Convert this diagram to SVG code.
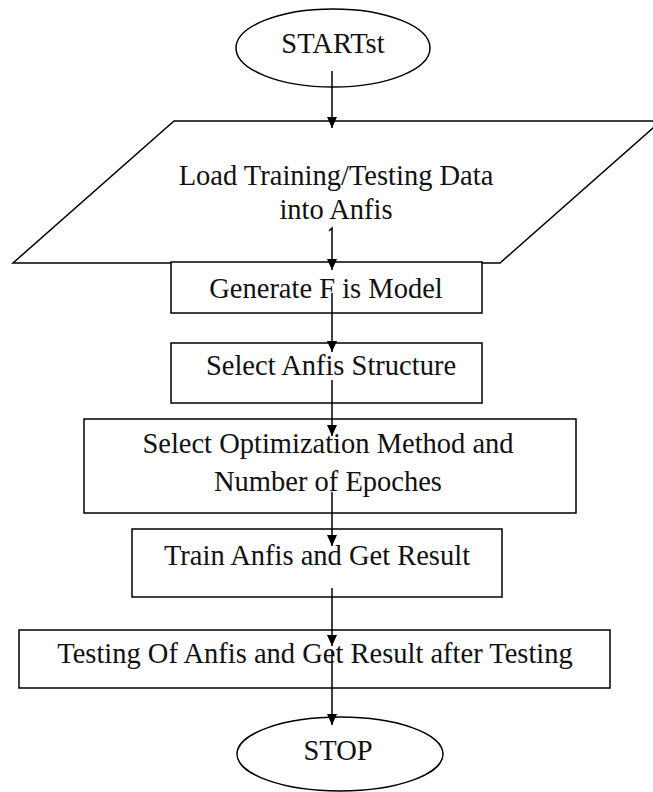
<svg xmlns="http://www.w3.org/2000/svg" width="653" height="792" viewBox="0 0 653 792">
<style>
.shape{fill:#fff;stroke:#000;stroke-width:1.5}
.t{font-family:"Liberation Serif","Times New Roman",serif;font-size:28.5px;fill:#111;text-anchor:middle}
.c{fill:none;stroke:#000;stroke-width:1.5}
</style>
<defs>
<marker id="ah" markerUnits="userSpaceOnUse" markerWidth="11" markerHeight="10" refX="11" refY="5" orient="auto" viewBox="0 0 11 10">
<path d="M0,0 L11,5 L0,10 Z" fill="#000"/>
</marker>
</defs>
<rect width="653" height="792" fill="#fff"/>
<g id="start">
<ellipse class="shape" cx="333" cy="48" rx="97" ry="39"/>
<text class="t" x="333" y="53">STARTst</text>
</g>
<g id="load">
<polygon class="shape" points="174,121 661,121 500,263 13,263"/>
<text class="t" x="336" y="185">Load Training/Testing Data</text>
<text class="t" x="336" y="219">into Anfis</text>
</g>
<g id="generate">
<rect class="shape" x="171" y="262" width="311" height="51"/>
<text class="t" x="326" y="298">Generate F is Model</text>
</g>
<g id="structure">
<rect class="shape" x="171" y="343" width="311" height="60"/>
<text class="t" x="331" y="375">Select Anfis Structure</text>
</g>
<g id="optimization">
<rect class="shape" x="84" y="419" width="492" height="94"/>
<text class="t" x="328" y="453">Select Optimization Method and</text>
<text class="t" x="328" y="491">Number of Epoches</text>
</g>
<g id="train">
<rect class="shape" x="132" y="529" width="370" height="68"/>
<text class="t" x="317" y="565">Train Anfis and Get Result</text>
</g>
<g id="testing">
<rect class="shape" x="19" y="630" width="591" height="58"/>
<text class="t" x="315" y="663">Testing Of Anfis and Get Result after Testing</text>
</g>
<g id="stop">
<ellipse class="shape" cx="340" cy="754" rx="103" ry="37"/>
<text class="t" x="338" y="760">STOP</text>
</g>
<g id="connectors">
<line class="c" x1="332" y1="71" x2="332" y2="128" marker-end="url(#ah)"/>
<path class="c" d="M329,231 L332,228 L332,270" marker-end="url(#ah)"/>
<line class="c" x1="332" y1="293" x2="332" y2="352" marker-end="url(#ah)"/>
<line class="c" x1="332" y1="380" x2="332" y2="436" marker-end="url(#ah)"/>
<line class="c" x1="332" y1="492" x2="332" y2="546" marker-end="url(#ah)"/>
<line class="c" x1="332" y1="588" x2="332" y2="646" marker-end="url(#ah)"/>
<line class="c" x1="332" y1="650" x2="332" y2="725" marker-end="url(#ah)"/>
</g>
</svg>
